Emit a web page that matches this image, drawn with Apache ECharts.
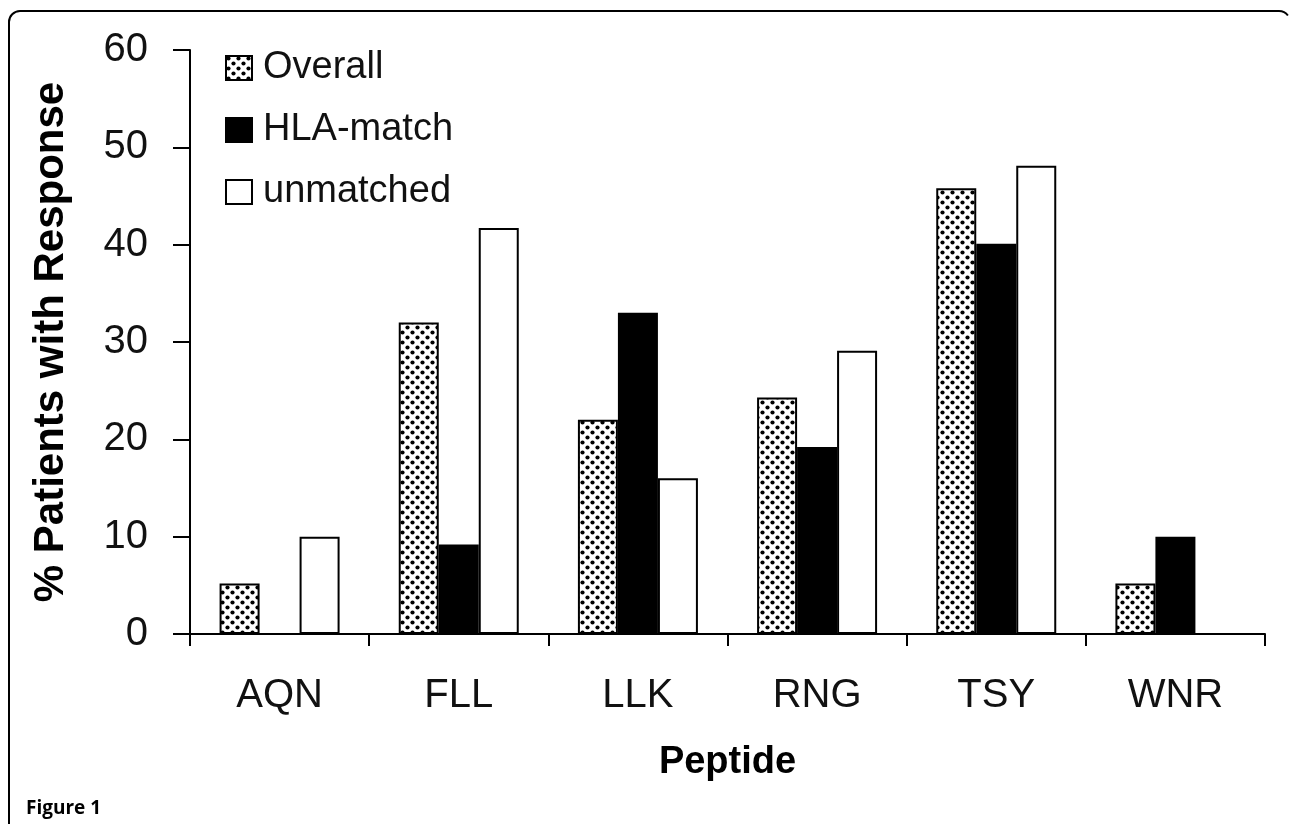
<!DOCTYPE html>
<html>
<head>
<meta charset="utf-8">
<script src="https://cdn.jsdelivr.net/npm/echarts@6/dist/echarts.min.js"></script>
<style>
html,body{margin:0;padding:0;background:#fff;}
#chart{width:1293px;height:824px;}
</style>
</head>
<body>
<div id="chart"></div>
<script>
var categories = ['AQN', 'FLL', 'LLK', 'RNG', 'TSY', 'WNR'];
var overall = [5.2, 32, 22, 24.3, 45.8, 5.2];
var hlaMatch = [0, 9.2, 33, 19.2, 40.1, 10];
var unmatched = [10, 41.7, 16, 29.1, 48.1, 0];
var seriesNames = ['Overall', 'HLA-match', 'unmatched'];
var yTicks = [0, 10, 20, 30, 40, 50, 60];

function noZero(arr) { return arr.map(function (v) { return v === 0 ? '-' : v; }); }

// dotted fill pattern
var pc = document.createElement('canvas');
pc.width = 10; pc.height = 10;
var g = pc.getContext('2d');
g.fillStyle = '#fff'; g.fillRect(0, 0, 10, 10);
g.fillStyle = '#000';
g.beginPath(); g.arc(2.5, 2.5, 2.1, 0, Math.PI * 2); g.fill();
g.beginPath(); g.arc(7.5, 7.5, 2.1, 0, Math.PI * 2); g.fill();

var font = "'Liberation Sans', Arial, sans-serif";
var chart = echarts.init(document.getElementById('chart'));
chart.setOption({
  backgroundColor: '#fff',
  animation: false,
  grid: { left: 190, right: 28, top: 50, bottom: 190, containLabel: false },
  legend: {
    orient: 'vertical', left: 220, top: 43, icon: 'rect',
    itemWidth: 26, itemHeight: 24, itemGap: 22,
    data: seriesNames,
    textStyle: { fontFamily: font, fontSize: 38, color: '#111', lineHeight: 40, padding: [0, 0, 0, 6] }
  },
  xAxis: {
    type: 'category', data: categories,
    name: 'Peptide', nameLocation: 'middle', nameGap: 110,
    nameTextStyle: { fontFamily: font, fontSize: 38, fontWeight: 'bold', color: '#000' },
    axisLine: { lineStyle: { color: '#000', width: 2 } },
    axisTick: { show: true, length: 12, lineStyle: { color: '#000', width: 2 } },
    axisLabel: { fontFamily: font, fontSize: 40, color: '#111', margin: 42 }
  },
  yAxis: {
    type: 'value', min: yTicks[0], max: yTicks[yTicks.length - 1], interval: 10,
    name: '% Patients with Response', nameLocation: 'middle', nameGap: 118, nameRotate: 90,
    nameTextStyle: { fontFamily: font, fontSize: 42, fontWeight: 'bold', color: '#000' },
    splitLine: { show: false },
    axisLine: { show: true, lineStyle: { color: '#000', width: 2 } },
    axisTick: { show: true, length: 17, lineStyle: { color: '#000', width: 2 } },
    axisLabel: { fontFamily: font, fontSize: 40, color: '#111', margin: 42 }
  },
  series: [
    { name: seriesNames[0], type: 'bar', data: noZero(overall), barWidth: 40, barGap: '0%',
      itemStyle: { color: { image: pc, repeat: 'repeat' }, borderColor: '#000', borderWidth: 2 } },
    { name: seriesNames[1], type: 'bar', data: noZero(hlaMatch), barWidth: 40, barGap: '0%',
      itemStyle: { color: '#000', borderColor: '#000', borderWidth: 2 } },
    { name: seriesNames[2], type: 'bar', data: noZero(unmatched), barWidth: 40, barGap: '0%',
      itemStyle: { color: '#fff', borderColor: '#000', borderWidth: 2 } }
  ],
  graphic: [
    { type: 'polyline', silent: true,
      shape: { points: [[9, 824], [9, 22]] },
      style: { fill: null, stroke: '#000', lineWidth: 2 } },
    { type: 'polyline', silent: true,
      shape: { points: [[20, 11], [1279, 11]] },
      style: { fill: null, stroke: '#000', lineWidth: 2 } },
    { type: 'arc', silent: true,
      shape: { cx: 20, cy: 22, r: 11, startAngle: Math.PI, endAngle: Math.PI * 1.5, clockwise: true },
      style: { fill: null, stroke: '#000', lineWidth: 2 } },
    { type: 'arc', silent: true,
      shape: { cx: 1279, cy: 22, r: 11, startAngle: Math.PI * 1.5, endAngle: Math.PI * 1.8, clockwise: true },
      style: { fill: null, stroke: '#000', lineWidth: 2 } },
    { type: 'text', left: 26, top: 799,
      style: { text: 'Figure 1', font: "bold 19px 'Open Sans', sans-serif", fill: '#000' } }
  ]
});
</script>
</body>
</html>
